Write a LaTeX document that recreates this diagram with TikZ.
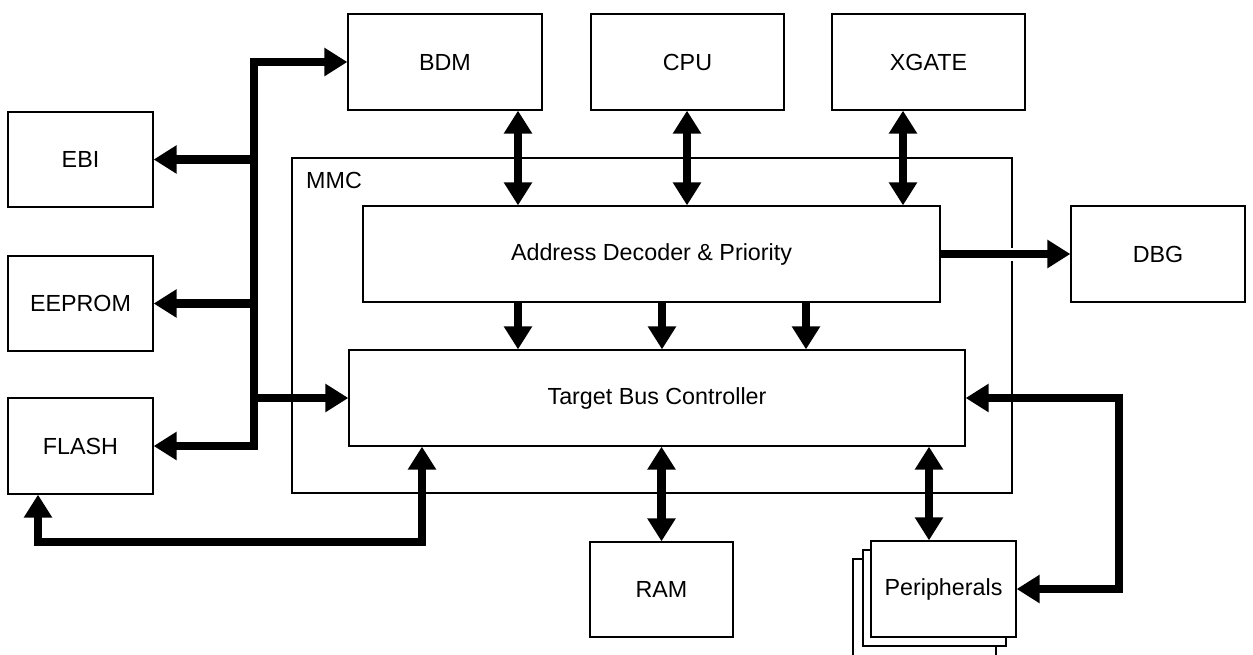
\documentclass[tikz,border=0pt]{standalone}
\usepackage{fontspec}
\setmainfont{Liberation Sans}
\usetikzlibrary{arrows.meta}
\begin{document}
\begin{tikzpicture}[x=1pt,y=-1pt,
  box/.style={draw=black, line width=1.3pt, fill=white, inner sep=0pt, font=\fontsize{23.3}{28}\selectfont},
  bus/.style={line width=8.5pt, line join=miter, draw=black},
  tip/.tip={Triangle[width=27pt,length=23pt]}]
\useasboundingbox (0,0) rectangle (1253,654);
% MMC frame
\draw[line width=2.3pt] (292,158) rectangle (1012,493);
\node[anchor=base west, inner sep=0pt, font=\fontsize{23.3}{28}\selectfont] (mmc) at (306,188) {MMC};
% boxes
\node[box, minimum width=145pt, minimum height=95pt] (ebi) at (80.5,159.5) {EBI};
\node[box, minimum width=145pt, minimum height=95pt] (eeprom) at (80.5,303.5) {EEPROM};
\node[box, minimum width=145pt, minimum height=96pt] (flash) at (80.5,446) {FLASH};
\node[box, minimum width=194pt, minimum height=96pt] (bdm) at (445,62) {BDM};
\node[box, minimum width=193pt, minimum height=96pt] (cpu) at (687.5,62) {CPU};
\node[box, minimum width=193pt, minimum height=96pt] (xgate) at (928.5,62) {XGATE};
\node[box, minimum width=577pt, minimum height=96pt] (adp) at (651.5,254) {Address Decoder \& Priority};
\node[box, minimum width=616pt, minimum height=96pt] (tbc) at (657,398) {Target Bus Controller};
\node[box, minimum width=174pt, minimum height=96pt] (dbg) at (1158,254) {DBG};
\node[box, minimum width=143pt, minimum height=95pt] (ram) at (661.5,589.5) {RAM};
% peripherals stack
\node[box, minimum width=143pt, minimum height=104pt] (per3) at (924.5,611) {};
\node[box, minimum width=143pt, minimum height=96pt] (per2) at (934.5,598) {};
\node[box, minimum width=145pt, minimum height=96pt] (per) at (943.5,589) {Peripherals};
% left bus
\coordinate (bt) at (254,62);
\draw[bus, {tip}-{tip}] (flash.east) -| (bt) -- (bdm.west);
\draw[bus, -{tip}] (bt |- ebi.east) -- (ebi.east);
\draw[bus, -{tip}] (bt |- eeprom.east) -- (eeprom.east);
\draw[bus, -{tip}] (bt |- tbc.west) -- (tbc.west);
% top to ADP
\draw[bus, {tip}-{tip}] (bdm.south -| 518,0) -- (adp.north -| 518,0);
\draw[bus, {tip}-{tip}] (cpu.south -| 687,0) -- (adp.north -| 687,0);
\draw[bus, {tip}-{tip}] (xgate.south -| 903,0) -- (adp.north -| 903,0);
% ADP to TBC
\draw[bus, -{tip}] (adp.south -| 518,0) -- (tbc.north -| 518,0);
\draw[bus, -{tip}] (adp.south -| 662,0) -- (tbc.north -| 662,0);
\draw[bus, -{tip}] (adp.south -| 806,0) -- (tbc.north -| 806,0);
% ADP to DBG
\draw[white, line width=13pt] (1004,254) -- (1020,254);
\draw[bus, -{tip}] (adp.east) -- (dbg.west);
% TBC to RAM and peripherals
\draw[bus, {tip}-{tip}] (tbc.south -| ram.north) -- (ram.north);
\draw[bus, {tip}-{tip}] (tbc.south -| 929,0) -- (per.north -| 929,0);
\coordinate (rc) at (1119,398);
\draw[bus, {tip}-{tip}] (tbc.east) -- (rc) |- (per.east);
% FLASH loop
\coordinate (fl1) at (38,542);
\coordinate (fl2) at (422,542);
\draw[bus, {tip}-{tip}] (flash.south -| fl1) -- (fl1) -- (fl2) -- (tbc.south -| fl2);
\end{tikzpicture}
\end{document}
